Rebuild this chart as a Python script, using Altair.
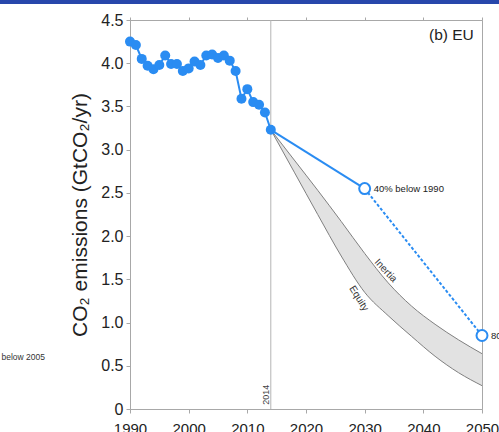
import altair as alt
import pandas as pd

# Historical EU fossil CO2 emissions (GtCO2/yr)
hist_years = list(range(1990, 2015))
hist_values = [4.25, 4.21, 4.05, 3.97, 3.93, 3.98, 4.09, 3.99, 3.99, 3.91,
               3.94, 4.02, 3.98, 4.09, 4.10, 4.06, 4.09, 4.03, 3.91, 3.59,
               3.70, 3.55, 3.52, 3.43, 3.23]

# Policy targets: 40% below 1990 by 2030, 80% below 1990 by 2050
target_years = [2014, 2030, 2050]
target_values = [3.23, 2.55, 0.85]
target_labels = ["", "40% below 1990", "80% below 1990"]

# Quota-sharing pathways bounding the shaded range
band_years = [2014, 2018, 2022, 2026, 2030, 2034, 2038, 2042, 2046, 2050]
inertia_values = [3.23, 2.88, 2.53, 2.17, 1.80, 1.46, 1.19, 0.98, 0.80, 0.64]
equity_values = [3.23, 2.74, 2.25, 1.77, 1.35, 1.08, 0.84, 0.61, 0.42, 0.27]

BLUE = "#2a8cf2"
GREY_AXIS = "#a8a8a8"
TEXT = "#222222"
FONT = "Liberation Sans"

hist = pd.DataFrame({"year": hist_years, "value": hist_values})
targets = pd.DataFrame({"year": target_years, "value": target_values,
                        "label": target_labels})
band = pd.DataFrame({"year": band_years, "inertia": inertia_values,
                     "equity": equity_values})

x_scale = alt.Scale(domain=[1990, 2050], nice=False, zero=False)
y_scale = alt.Scale(domain=[0, 4.5], nice=False)

x_axis = alt.Axis(values=list(range(1990, 2051, 10)), format="d", title=None,
                  grid=False, tickSize=4, labelPadding=8, labelFontSize=15,
                  labelFlush=False, labelOverlap=False,
                  labelColor=TEXT, domainColor=GREY_AXIS, tickColor=GREY_AXIS,
                  labelFont=FONT)
y_axis = alt.Axis(values=[i * 0.5 for i in range(10)],
                  labelExpr="datum.value == 0 ? '0' : format(datum.value, '.1f')",
                  title="CO₂ emissions (GtCO₂/yr)", titleFontSize=21,
                  titleFontWeight="normal", titleColor=TEXT, titleFont=FONT,
                  titlePadding=10, grid=False, tickSize=4, labelPadding=3,
                  labelFlush=False, labelOverlap=False,
                  labelFontSize=16, labelColor=TEXT, labelFont=FONT,
                  domainColor=GREY_AXIS, tickColor=GREY_AXIS)

band_base = alt.Chart(band)

shade = band_base.mark_area(color="#e2e2e2", interpolate="monotone").encode(
    x=alt.X("year:Q", scale=x_scale, axis=x_axis),
    y=alt.Y("equity:Q", scale=y_scale, axis=y_axis),
    y2="inertia:Q",
)

inertia_line = band_base.mark_line(color="#808080", strokeWidth=1,
                                   interpolate="monotone").encode(
    x=alt.X("year:Q", scale=x_scale, axis=None),
    y=alt.Y("inertia:Q", scale=y_scale, axis=None),
)
equity_line = band_base.mark_line(color="#808080", strokeWidth=1,
                                  interpolate="monotone").encode(
    x=alt.X("year:Q", scale=x_scale, axis=None),
    y=alt.Y("equity:Q", scale=y_scale, axis=None),
)

# Top frame ticks
top_ticks = alt.Chart(hist).mark_point(opacity=0).encode(
    x=alt.X("year:Q", scale=x_scale,
            axis=alt.Axis(orient="top", values=list(range(1990, 2051, 10)),
                          labels=False, title=None, grid=False, tickSize=3,
                          domainColor=GREY_AXIS, tickColor=GREY_AXIS)),
    y=alt.Y("value:Q", scale=y_scale, axis=None),
)

year_rule = alt.Chart(pd.DataFrame({"year": [2014]})).mark_rule(
    color="#b4b4b4", strokeWidth=1).encode(
    x=alt.X("year:Q", scale=x_scale, axis=None),
)

year_text = alt.Chart(pd.DataFrame({"year": [2014], "value": [0.05],
                                    "t": ["2014"]})).mark_text(
    angle=270, align="left", baseline="bottom", fontSize=9, color="#444",
    font=FONT).encode(
    x=alt.X("year:Q", scale=x_scale, axis=None),
    y=alt.Y("value:Q", scale=y_scale, axis=None),
    text="t:N",
)

hist_line = alt.Chart(hist).mark_line(color=BLUE, strokeWidth=2).encode(
    x=alt.X("year:Q", scale=x_scale, axis=None),
    y=alt.Y("value:Q", scale=y_scale, axis=None),
)
hist_pts = alt.Chart(hist).mark_circle(color=BLUE, size=100, opacity=1).encode(
    x=alt.X("year:Q", scale=x_scale, axis=None),
    y=alt.Y("value:Q", scale=y_scale, axis=None),
)

solid_seg = alt.Chart(targets.iloc[0:2]).mark_line(color=BLUE, strokeWidth=2).encode(
    x=alt.X("year:Q", scale=x_scale, axis=None),
    y=alt.Y("value:Q", scale=y_scale, axis=None),
)
dash_seg = alt.Chart(targets.iloc[1:3]).mark_line(
    color=BLUE, strokeWidth=2, strokeDash=[3, 2]).encode(
    x=alt.X("year:Q", scale=x_scale, axis=None),
    y=alt.Y("value:Q", scale=y_scale, axis=None),
)
target_pts = alt.Chart(targets.iloc[1:3]).mark_point(
    shape="circle", size=120, filled=True, fill="white", stroke=BLUE,
    strokeWidth=2, opacity=1).encode(
    x=alt.X("year:Q", scale=x_scale, axis=None),
    y=alt.Y("value:Q", scale=y_scale, axis=None),
)
target_text = alt.Chart(targets.iloc[1:3]).mark_text(
    align="left", baseline="middle", dx=9, fontSize=9.5, color=TEXT,
    font=FONT).encode(
    x=alt.X("year:Q", scale=x_scale, axis=None),
    y=alt.Y("value:Q", scale=y_scale, axis=None),
    text="label:N",
)

inertia_label = alt.Chart(pd.DataFrame({"year": [2033.6], "value": [1.60],
                                        "t": ["Inertia"]})).mark_text(
    angle=47, fontSize=10, color="#333", font=FONT).encode(
    x=alt.X("year:Q", scale=x_scale, axis=None),
    y=alt.Y("value:Q", scale=y_scale, axis=None),
    text="t:N",
)
equity_label = alt.Chart(pd.DataFrame({"year": [2029.0], "value": [1.28],
                                       "t": ["Equity"]})).mark_text(
    angle=58, fontSize=10, color="#333", font=FONT).encode(
    x=alt.X("year:Q", scale=x_scale, axis=None),
    y=alt.Y("value:Q", scale=y_scale, axis=None),
    text="t:N",
)

panel_label = alt.Chart(pd.DataFrame({"year": [2048.6], "value": [4.27],
                                      "t": ["(b) EU"]})).mark_text(
    align="right", baseline="alphabetic", fontSize=15.5, color=TEXT,
    font=FONT).encode(
    x=alt.X("year:Q", scale=x_scale, axis=None),
    y=alt.Y("value:Q", scale=y_scale, axis=None),
    text="t:N",
)

# Edge of the neighbouring panel's label
side_label = alt.Chart(pd.DataFrame({"t": ["80% below 2005"]})).mark_text(
    align="right", baseline="middle", fontSize=8.5, color="#333",
    font=FONT).encode(
    x=alt.value(-85), y=alt.value(337), text="t:N",
)

# Slide header strip
header = alt.Chart(pd.DataFrame({"a": [0]})).mark_rect(
    color="#2747ab", opacity=1).encode(
    x=alt.value(-130), x2=alt.value(369), y=alt.value(-20), y2=alt.value(-16),
)

chart = alt.layer(
    shade, inertia_line, equity_line, top_ticks, year_rule, year_text,
    solid_seg, dash_seg, hist_line, hist_pts, target_pts, target_text,
    inertia_label, equity_label, panel_label, side_label, header,
).resolve_axis(x="independent", y="independent").properties(
    width=352, height=389,
    autosize=alt.AutoSizeParams(type="none"),
    padding={"left": 130, "top": 20, "right": 17, "bottom": 23},
    background="white",
).configure_view(stroke=GREY_AXIS, strokeWidth=1).configure_text(font=FONT)

chart.save("out.html", embed_options={"renderer": "svg", "actions": False})
